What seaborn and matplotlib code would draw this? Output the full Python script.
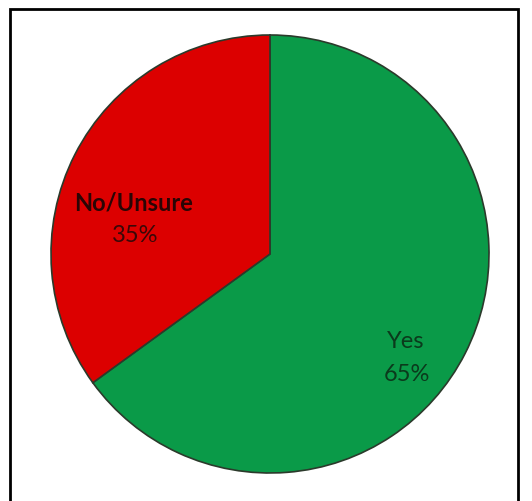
import matplotlib
matplotlib.use("Agg")
import matplotlib.pyplot as plt
import seaborn as sns
from matplotlib.patches import Rectangle

categories = ["Yes", "No/Unsure"]
values = [65, 35]
colors = ["#0A9A48", "#DC0000"]

sns.set_theme(style="white")
plt.rcParams["font.family"] = ["Lato", "DejaVu Sans"]

W, H = 532, 502
fig = plt.figure(figsize=(W / 100, H / 100), dpi=100)
fig.patch.set_facecolor("white")

cx, cy, r = 270, 255, 219
ax = fig.add_axes([(cx - r) / W, (H - cy - r) / H, 2 * r / W, 2 * r / H])

wedges, _ = ax.pie(values, colors=colors, startangle=90, counterclock=False,
                   radius=1.0,
                   wedgeprops=dict(edgecolor="#2b3a2b", linewidth=1.2))
ax.set_xlim(-1, 1)
ax.set_ylim(-1, 1)
ax.set_aspect("equal")
ax.axis("off")


def px(x, y):
    return (x - cx) / r, (cy - y) / r


fs = 17
# Yes label
ax.text(*px(406, 342), categories[0], ha="center", va="center",
        fontsize=fs, color="#0b3a1c")
ax.text(*px(407, 375), f"{values[0]}%", ha="center", va="center",
        fontsize=fs, color="#0b3a1c")
# No/Unsure label
ax.text(*px(134, 203), categories[1], ha="center", va="center",
        fontsize=fs, color="#2a0505", fontweight="bold")
ax.text(*px(135, 235), f"{values[1]}%", ha="center", va="center",
        fontsize=fs, color="#3a0808")

# outer frame
fig.add_artist(Rectangle((10 / W, -0.02), (518 - 10) / W, 1.02 - 10 / H,
                         transform=fig.transFigure, fill=False,
                         edgecolor="black", linewidth=2))

fig.savefig("out.png", dpi=100)
